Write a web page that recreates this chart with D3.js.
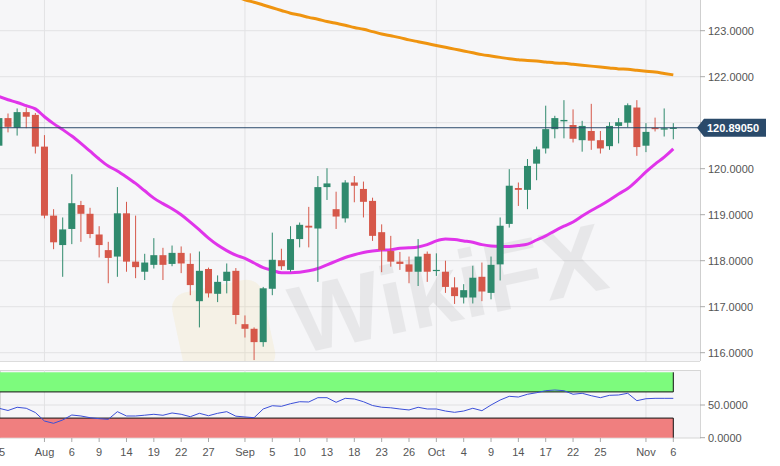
<!DOCTYPE html>
<html><head><meta charset="utf-8">
<script src="https://cdn.jsdelivr.net/npm/d3@7/dist/d3.min.js"></script>
<style>html,body{margin:0;padding:0;background:#fff;}svg{display:block;font-family:"Liberation Sans",Arial,sans-serif;}</style>
</head><body><svg id="c" width="780" height="466"></svg>
<script>
const dates = ["07-25","07-26","07-29","07-30","07-31",
"08-01","08-02","08-05","08-06","08-07","08-08","08-09","08-12","08-13","08-14","08-15","08-16","08-19","08-20","08-21","08-22","08-23","08-26","08-27","08-28","08-29","08-30",
"09-02","09-03","09-04","09-05","09-06","09-09","09-10","09-11","09-12","09-13","09-16","09-17","09-18","09-19","09-20","09-23","09-24","09-25","09-26","09-27","09-30",
"10-01","10-02","10-03","10-04","10-07","10-08","10-09","10-10","10-11","10-14","10-15","10-16","10-17","10-18","10-21","10-22","10-23","10-24","10-25","10-28","10-29","10-30","10-31",
"11-01","11-04","11-05","11-06"];
const open  = [120.50,121.10,120.89,121.23,121.17,120.48,118.98,118.34,118.69,119.21,119.02,118.57,118.23,118.09,119.03,117.98,117.76,117.91,118.12,117.93,118.17,117.93,117.12,117.82,117.28,117.56,117.78,116.62,116.52,116.23,117.39,118.01,117.80,118.47,118.76,118.70,119.60,119.12,118.92,119.70,119.56,119.30,118.62,118.21,117.98,117.92,117.76,118.15,117.78,117.76,117.42,117.20,117.20,117.65,117.30,117.92,118.80,119.58,119.54,120.11,120.44,120.86,121.03,120.95,120.62,120.82,120.62,120.49,120.93,121.00,121.33,120.50,120.89,120.85,120.87];
const high  = [121.20,121.20,121.31,121.33,121.21,120.73,119.12,118.94,119.88,119.30,119.15,118.75,118.41,119.60,119.28,118.98,118.15,118.49,118.28,118.33,118.31,118.16,118.20,117.85,117.68,117.94,117.84,116.81,116.55,117.43,118.61,118.26,118.75,118.83,119.17,119.84,120.01,119.50,119.75,119.84,119.72,119.37,118.79,118.54,118.19,118.09,118.47,118.20,118.16,118.00,117.64,117.49,117.89,117.96,118.09,118.94,119.99,119.70,120.21,120.48,121.37,121.15,121.49,121.29,121.04,121.41,120.82,121.01,121.10,121.42,121.49,120.99,121.11,121.31,120.99];
const low   = [120.40,120.79,120.72,120.88,120.33,118.92,118.25,117.65,118.36,118.41,118.49,118.07,117.51,117.65,117.76,117.62,117.58,117.83,117.58,117.88,117.73,117.25,116.55,117.20,117.10,117.29,116.62,116.33,115.84,116.13,117.25,117.80,117.76,118.29,118.29,117.54,119.32,118.69,118.83,119.27,118.94,118.43,117.75,117.87,117.80,117.51,117.45,117.54,117.67,117.30,117.06,117.07,117.07,117.12,117.16,117.57,118.72,119.19,119.12,119.75,120.33,120.66,120.66,120.57,120.37,120.41,120.33,120.41,120.55,120.90,120.28,120.36,120.81,120.70,120.64];
const close = [121.10,120.91,121.23,121.13,120.48,118.98,118.40,118.68,119.25,119.02,118.58,118.34,118.06,119.03,117.98,117.86,117.96,118.12,117.91,118.17,117.94,117.47,117.78,117.29,117.54,117.76,116.82,116.52,116.23,117.40,118.02,117.88,118.47,118.78,118.72,119.60,119.68,118.96,119.70,119.63,119.28,118.54,118.23,117.98,117.93,117.76,118.09,117.76,117.80,117.43,117.23,117.36,117.63,117.33,117.91,118.76,119.63,119.54,120.06,120.42,120.86,121.10,121.06,120.65,120.93,120.61,120.44,120.93,121.01,121.38,120.47,120.80,120.86,120.88,120.8905];
const maShort = [121.57,121.50,121.44,121.37,121.30,121.13,120.98,120.85,120.71,120.55,120.38,120.21,120.06,119.95,119.82,119.68,119.52,119.36,119.24,119.13,119.00,118.84,118.67,118.49,118.34,118.22,118.12,118.05,117.95,117.85,117.79,117.74,117.74,117.75,117.78,117.83,117.91,117.99,118.07,118.13,118.18,118.21,118.23,118.24,118.27,118.28,118.30,118.35,118.43,118.47,118.46,118.43,118.40,118.35,118.32,118.31,118.31,118.33,118.36,118.45,118.54,118.65,118.75,118.84,118.97,119.09,119.20,119.32,119.45,119.57,119.74,119.93,120.10,120.25,120.43];
const maLong = [null,null,null,null,null,null,null,null,null,null,null,null,null,null,null,null,null,null,null,null,null,null,null,null,null,124.10,123.78,123.67,123.62,123.56,123.50,123.44,123.38,123.34,123.29,123.25,123.20,123.16,123.12,123.07,123.03,122.98,122.93,122.89,122.85,122.80,122.76,122.72,122.68,122.64,122.60,122.56,122.52,122.48,122.45,122.42,122.39,122.37,122.35,122.34,122.32,122.30,122.29,122.27,122.25,122.23,122.21,122.19,122.17,122.16,122.14,122.12,122.10,122.07,122.04];
const rsi = [45.0,41.6,46.5,45.0,38.5,25.5,22.0,27.1,34.7,33.2,30.6,29.1,28.1,39.8,33.2,33.2,34.4,35.8,34.3,37.8,35.8,32.1,37.3,33.6,37.3,39.8,32.9,31.7,30.6,43.9,48.9,48.0,52.0,55.0,54.6,61.2,61.2,54.1,60.2,59.2,55.0,49.2,46.6,45.7,43.9,42.4,46.5,43.9,43.9,40.8,38.8,40.8,45.0,41.3,50.0,57.6,63.3,62.2,66.4,68.8,71.9,72.9,71.9,66.4,67.9,64.2,61.2,64.8,65.3,67.9,56.6,59.6,60.2,60.2,60.2];
const priceTicks = [116,117,118,119,120,121,122,123];
const rsiTicks = [0,50];
const rsiBands = [[70,100,"#7dfb7d"],[0,30,"#f07f7f"]];
const xTickDates = ["07-25","08-01","08-06","08-09","08-14","08-19","08-22","08-27","09-02","09-05","09-10","09-13","09-18","09-23","09-26","10-01","10-04","10-09","10-14","10-17","10-22","10-25","11-01","11-06"];
const xTickLabels = ["25","Aug","6","9","14","19","22","27","Sep","5","10","13","18","23","26","Oct","4","9","14","17","22","25","Nov","6"];
const monthStarts = ["08-01","09-02","10-01","11-01"];
const lastPrice = 120.8905;

const svg = d3.select("#c");
const PW = 700, MT = 0, MB = 361, RT = 370, RB = 438;
const x = d3.scalePoint().domain(dates).range([-1.1, 673.3]);
const y = d3.scaleLinear().domain([116,123]).range([352.7,30.7]);
const yr = d3.scaleLinear().domain([0,100]).range([437.7,372.3]);
const GREEN = "#2f8a6d", RED = "#d6584a";

svg.append("rect").attr("width",780).attr("height",466).attr("fill","#fff");
// main panel
svg.append("rect").attr("x",0).attr("y",MT).attr("width",PW).attr("height",MB-MT).attr("fill","#f6f6f8");
svg.append("defs").append("clipPath").attr("id","mclip").append("rect").attr("x",0).attr("y",MT).attr("width",PW).attr("height",MB-MT);
const m = svg.append("g").attr("clip-path","url(#mclip)");
m.selectAll(".hg").data(priceTicks).join("line").attr("x1",0).attr("x2",PW).attr("y1",d=>y(d)).attr("y2",d=>y(d)).attr("stroke","#e2e2e4").attr("stroke-width",1);
m.selectAll(".vg").data(monthStarts).join("line").attr("x1",d=>x(d)).attr("x2",d=>x(d)).attr("y1",MT).attr("y2",MB).attr("stroke","#e2e2e4");

// watermark
const wm = m.append("g").attr("transform","translate(400,300) rotate(-12)");
wm.append("rect").attr("x",-225).attr("y",-52).attr("width",92).attr("height",92).attr("rx",16).attr("fill","#f3d27a").attr("opacity",0.14);
wm.append("text").attr("x",-110).attr("y",32).attr("font-size",96).attr("font-weight","bold").attr("fill","#000").attr("opacity",0.055).text("WikiFX");

// long MA
m.append("path").datum(dates.map((d,i)=>[d,maLong[i]]).filter(p=>p[1]!=null))
 .attr("d",d3.line().x(p=>x(p[0])).y(p=>y(p[1])).curve(d3.curveMonotoneX))
 .attr("fill","none").attr("stroke","#ef9410").attr("stroke-width",3);
// short MA
m.append("path").datum(dates.map((d,i)=>[d,maShort[i]]))
 .attr("d",d3.line().x(p=>x(p[0])).y(p=>y(p[1])).curve(d3.curveMonotoneX))
 .attr("fill","none").attr("stroke","#e034ea").attr("stroke-width",3);

// candles
const idx = d3.range(dates.length);
const cg = m.selectAll(".cd").data(idx).join("g");
cg.append("line").attr("x1",i=>x(dates[i])).attr("x2",i=>x(dates[i])).attr("y1",i=>y(high[i])).attr("y2",i=>y(low[i]))
  .attr("stroke",i=>close[i]>=open[i]?GREEN:RED).attr("stroke-width",1);
cg.append("rect").attr("x",i=>x(dates[i])-3.5).attr("width",7)
  .attr("y",i=>y(Math.max(open[i],close[i]))).attr("height",i=>Math.max(1.2,Math.abs(y(open[i])-y(close[i]))))
  .attr("fill",i=>close[i]>=open[i]?GREEN:RED);

// last price line
m.append("line").attr("x1",0).attr("x2",PW).attr("y1",y(lastPrice)).attr("y2",y(lastPrice)).attr("stroke","#2a4a6a").attr("stroke-width",1);

svg.append("line").attr("x1",0).attr("x2",PW).attr("y1",MB+0.5).attr("y2",MB+0.5).attr("stroke","#dcdcdc");
svg.append("line").attr("x1",PW+0.5).attr("x2",PW+0.5).attr("y1",0).attr("y2",MB).attr("stroke","#cfcfcf");

// price axis
svg.selectAll(".pt").data(priceTicks).join("line").attr("x1",PW).attr("x2",PW+5).attr("y1",d=>y(d)).attr("y2",d=>y(d)).attr("stroke","#aaa");
svg.selectAll(".pl").data(priceTicks).join("text").attr("x",708).attr("y",d=>y(d)).attr("dy","0.36em")
  .attr("font-size",11).attr("fill","#555").text(d=>d3.format(".4f")(d));

// last price tag
const ly = y(lastPrice);
svg.append("path").attr("d",`M697,${ly} L704,${ly-9} L766,${ly-9} L766,${ly+9} L704,${ly+9} Z`).attr("fill","#2a4a6a");
svg.append("text").attr("x",707).attr("y",ly).attr("dy","0.36em").attr("font-size",11).attr("font-weight","bold").attr("fill","#fff").text(d3.format(".5f")(lastPrice));

// RSI panel
svg.append("rect").attr("x",0.5).attr("y",RT+0.5).attr("width",PW).attr("height",RB-RT-0.5).attr("fill","#f6f6f8").attr("stroke","#d6d6d6");
const r = svg.append("g");
r.selectAll(".vg").data(monthStarts).join("line").attr("x1",d=>x(d)).attr("x2",d=>x(d)).attr("y1",RT).attr("y2",RB).attr("stroke","#e2e2e4");
r.append("line").attr("x1",0).attr("x2",PW).attr("y1",yr(50)).attr("y2",yr(50)).attr("stroke","#e0e0e2");
r.selectAll(".band").data(rsiBands).join("rect").attr("x",0).attr("width",x(dates[dates.length-1]))
 .attr("y",d=>yr(d[1])).attr("height",d=>yr(d[0])-yr(d[1])).attr("fill",d=>d[2]);
r.selectAll(".bl").data(rsiBands).join("line").attr("x1",0).attr("x2",x(dates[dates.length-1])).attr("y1",d=>d[0]===0?yr(d[1]):yr(d[0])).attr("y2",d=>d[0]===0?yr(d[1]):yr(d[0])).attr("stroke","#111");
r.selectAll(".br").data(rsiBands).join("line").attr("x1",x(dates[dates.length-1])).attr("x2",x(dates[dates.length-1])).attr("y1",d=>yr(d[1])).attr("y2",d=>yr(d[0])).attr("stroke","#111");
r.append("path").datum(rsi).attr("d",d3.line().x((v,i)=>x(dates[i])).y(v=>yr(v)))
 .attr("fill","none").attr("stroke","#3b4fd8").attr("stroke-width",1);
svg.selectAll(".rt").data(rsiTicks).join("line").attr("x1",PW).attr("x2",PW+5).attr("y1",d=>yr(d)).attr("y2",d=>yr(d)).attr("stroke","#aaa");
svg.selectAll(".rl").data(rsiTicks).join("text").attr("x",708).attr("y",d=>yr(d)).attr("dy","0.36em")
  .attr("font-size",11).attr("fill","#555").text(d=>d3.format(".4f")(d));

// x axis
svg.selectAll(".xt").data(xTickDates).join("line").attr("x1",d=>x(d)).attr("x2",d=>x(d)).attr("y1",RB).attr("y2",RB+4).attr("stroke","#aaa");
svg.selectAll(".xl").data(xTickDates).join("text").attr("x",d=>x(d)).attr("y",456).attr("text-anchor","middle")
  .attr("font-size",11).attr("fill","#555").text((d,i)=>xTickLabels[i]);
</script></body></html>
